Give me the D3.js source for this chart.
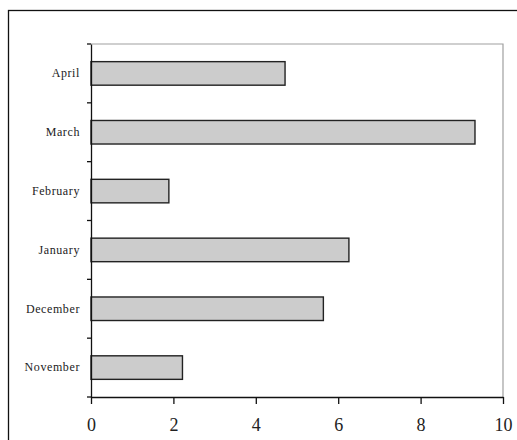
<!DOCTYPE html>
<html><head><meta charset="utf-8">
<script src="https://cdn.jsdelivr.net/npm/d3@7"></script>
<style>html,body{margin:0;padding:0;background:#fff;}svg{display:block;}</style>
</head><body>
<script>
const categories = ["April","March","February","January","December","November"];
const values = [4.71, 9.32, 1.89, 6.26, 5.64, 2.22];
const xTicks = [0,2,4,6,8,10];

const W = 517, H = 440;
const svg = d3.select("body").append("svg").attr("width", W).attr("height", H);

// outer chart border
svg.append("rect").attr("x",8.5).attr("y",10.5).attr("width",W).attr("height",H)
  .attr("fill","none").attr("stroke","#111").attr("stroke-width",1.3);

const mLeft = 91, mRight = 503, mTop = 44, mBottom = 397;
const x = d3.scaleLinear().domain([0,10]).range([mLeft,mRight]);
const y = d3.scaleBand().domain(categories).range([mTop,mBottom]).padding(0);

// plot area border (top/right)
svg.append("path").attr("d",`M${mLeft},${mTop}H${mRight}V${mBottom}`)
  .attr("fill","none").attr("stroke","#a0a0a0").attr("stroke-width",1.2);

const barH = y.bandwidth()*0.4;
svg.append("g").selectAll("rect").data(categories).join("rect")
  .attr("x", x(0))
  .attr("y", (d)=> y(d) + (y.bandwidth()-barH)/2)
  .attr("width", (d,i)=> x(values[i]) - x(0))
  .attr("height", barH)
  .attr("fill","#cccccc").attr("stroke","#222").attr("stroke-width",1.4);

// x axis
const xAxis = svg.append("g").attr("transform",`translate(0,${mBottom})`)
  .call(d3.axisBottom(x).tickValues(xTicks).tickSize(7).tickPadding(14).tickSizeOuter(0));
xAxis.select(".domain").attr("stroke","#111").attr("stroke-width",1.3);
xAxis.selectAll(".tick line").attr("stroke","#111").attr("stroke-width",1.3);
xAxis.selectAll("text").attr("font-family","'Liberation Serif', 'Times New Roman', serif")
  .attr("font-size",18).attr("fill","#222");

// y axis
const yAxis = svg.append("g").attr("transform",`translate(${mLeft},0)`)
  .call(d3.axisLeft(y).tickSize(0).tickPadding(11));
yAxis.select(".domain").attr("stroke","#111").attr("stroke-width",1.3);
yAxis.selectAll("text").attr("font-family","'Liberation Serif', 'Times New Roman', serif")
  .attr("font-size",12).attr("letter-spacing","0.6px").attr("fill","#222");
// boundary ticks between categories
const bounds = categories.map(d=>y(d)).concat([mBottom]);
yAxis.append("g").selectAll("line").data(bounds).join("line")
  .attr("x1",-4).attr("x2",0).attr("y1",d=>d).attr("y2",d=>d)
  .attr("stroke","#111").attr("stroke-width",1.3);
</script>
</body></html>
